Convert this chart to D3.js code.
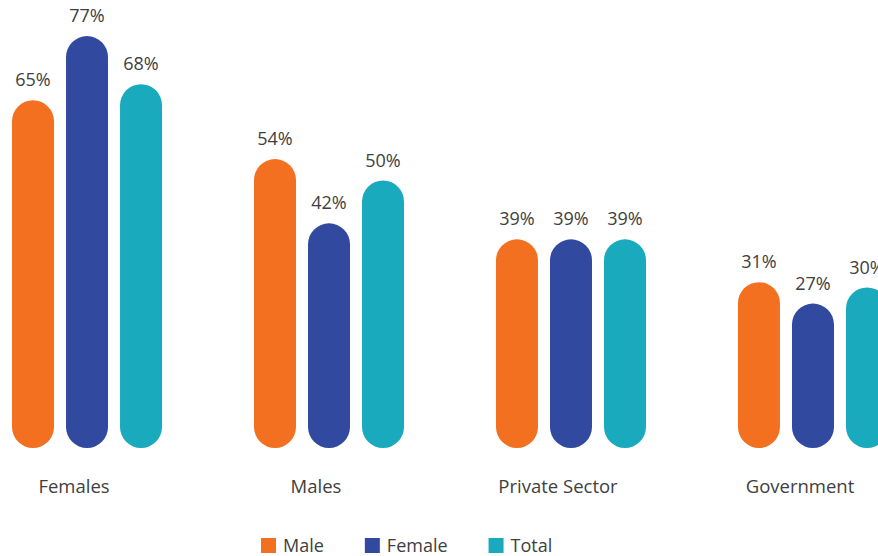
<!DOCTYPE html>
<html>
<head>
<meta charset="utf-8">
<script src="https://cdn.jsdelivr.net/npm/d3@7"></script>
<style>
  body { margin: 0; background: #fff; }
  text { font-family: "Open Sans", sans-serif; fill: #404040; }
</style>
</head>
<body>
<div id="chart"></div>
<script>
// Data
var categories = ['Females', 'Males', 'Private Sector', 'Government'];
var seriesNames = ['Male', 'Female', 'Total'];
var maleValues = [0.65, 0.54, 0.39, 0.31];
var femaleValues = [0.77, 0.42, 0.39, 0.27];
var totalValues = [0.68, 0.50, 0.39, 0.30];
var colors = ['#F37021', '#314A9F', '#19AABD'];

var svgWidth = 878;
var svgHeight = 556;
var baseline = 448;

var svg = d3.select('#chart')
    .append('svg')
    .attr('width', svgWidth)
    .attr('height', svgHeight);

var rows = categories.map(function(c, i) {
    return { category: c, values: [maleValues[i], femaleValues[i], totalValues[i]] };
});

// Scales
var x0 = d3.scaleBand()
    .domain(categories)
    .range([12, 888])
    .paddingInner(0.38)
    .paddingOuter(0);

var x1 = d3.scaleBand()
    .domain(seriesNames)
    .range([0, x0.bandwidth()])
    .paddingInner(12 / 54);

var y = d3.scaleLinear()
    .domain([0, 0.8])
    .range([baseline, 20]);

var fmt = d3.format('.0%');

// Bars
var groups = svg.append('g').selectAll('g')
    .data(rows)
    .enter()
    .append('g')
    .attr('transform', d => `translate(${x0(d.category)}, 0)`);

var cells = groups.selectAll('g')
    .data(d => d.values.map((v, i) => ({ name: seriesNames[i], value: v, color: colors[i] })))
    .enter()
    .append('g');

cells.append('rect')
    .attr('x', d => x1(d.name))
    .attr('y', d => y(d.value))
    .attr('width', x1.bandwidth())
    .attr('height', d => baseline - y(d.value))
    .attr('rx', x1.bandwidth() / 2)
    .attr('ry', x1.bandwidth() / 2)
    .attr('fill', d => d.color);

cells.append('text')
    .attr('x', d => x1(d.name) + x1.bandwidth() / 2)
    .attr('y', d => y(d.value) - 14)
    .attr('text-anchor', 'middle')
    .attr('font-size', 18)
    .text(d => fmt(d.value));

// Category labels
svg.append('g').selectAll('text')
    .data(categories)
    .enter()
    .append('text')
    .attr('x', d => x0(d) + x0.bandwidth() / 2 - 13)
    .attr('y', 493)
    .attr('text-anchor', 'middle')
    .attr('font-size', 18.5)
    .text(d => d);

// Legend
var legend = svg.append('g').attr('transform', 'translate(0, 538)');
var lx = 261;
seriesNames.forEach(function(name, i) {
    var item = legend.append('g').attr('transform', `translate(${lx}, 0)`);
    item.append('rect')
        .attr('width', 15)
        .attr('height', 15)
        .attr('fill', colors[i]);
    var t = item.append('text')
        .attr('x', 22)
        .attr('y', 14)
        .attr('font-size', 18)
        .text(name);
    lx += 22 + t.node().getComputedTextLength() + 41;
});
</script>
</body>
</html>
